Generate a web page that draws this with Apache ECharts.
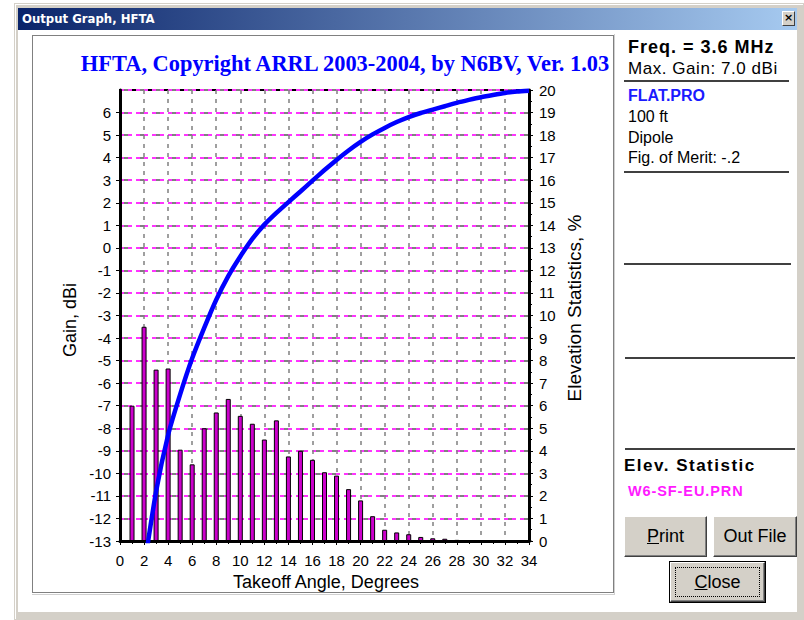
<!DOCTYPE html>
<html>
<head>
<meta charset="utf-8">
<script src="https://cdn.jsdelivr.net/npm/echarts@6/dist/echarts.min.js"></script>
<style>
  body{margin:0;width:804px;height:620px;position:relative;background:#fff;overflow:hidden;font-family:"Liberation Sans",Arial,sans-serif;}
  .abs{position:absolute;}
  .txt{position:absolute;white-space:nowrap;color:#000;}
  .hr{position:absolute;height:0;border-top:2px solid #404040;}
  .btn{position:absolute;background:#d4d0c8;border-style:solid;border-width:1px;border-color:#fff #404040 #404040 #fff;box-shadow:inset -1px -1px 0 #808080;box-sizing:border-box;font-size:18px;text-align:center;color:#000;}
</style>
</head>
<body>
<!-- window frame -->
<div class="abs" style="left:14px;top:3px;width:790px;height:617px;background:#d4d0c8;"></div>
<div class="abs" style="left:15px;top:4px;width:788px;height:615px;border-left:1px solid #fff;border-top:1px solid #fff;box-sizing:border-box;"></div>
<div class="abs" style="left:18px;top:30px;width:779px;height:582px;background:#fff;"></div>
<!-- title bar -->
<div class="abs" style="left:18px;top:8px;width:779px;height:22px;background:linear-gradient(to right,#0a246a,#a6caf0);"></div>
<div class="txt" style="left:22px;top:9px;font:bold 13px 'DejaVu Sans Condensed','DejaVu Sans',sans-serif;color:#fff;line-height:20px;">Output Graph, HFTA</div>
<div class="abs" style="left:782px;top:11px;width:13px;height:15px;background:#d4d0c8;border:1px solid;border-color:#fff #404040 #404040 #fff;box-sizing:border-box;font:bold 11px 'DejaVu Sans',sans-serif;text-align:center;line-height:12px;">×</div>
<!-- chart frame -->
<div class="abs" style="left:32px;top:35px;width:582px;height:558px;border:1px solid #808080;box-sizing:border-box;"></div>
<div class="abs" style="left:614px;top:34px;width:1px;height:560px;background:#d0d0d0;"></div>
<div class="abs" style="left:32px;top:594px;width:583px;height:1px;background:#d0d0d0;"></div>

<div id="chart" class="abs" style="left:0;top:0;width:804px;height:620px;"></div>

<!-- right panel -->
<div class="txt" style="left:628px;top:37px;font:bold 18px 'Liberation Sans',Arial,sans-serif;letter-spacing:1px;line-height:20px;">Freq. = 3.6 MHz</div>
<div class="txt" style="left:628px;top:59px;font:17px 'Liberation Sans',Arial,sans-serif;letter-spacing:0.55px;line-height:20px;">Max. Gain: 7.0 dBi</div>
<div class="hr" style="left:624px;top:80px;width:165px;"></div>
<div class="txt" style="left:628px;top:86px;font:bold 16px 'Liberation Sans',Arial,sans-serif;line-height:20px;color:#1a1aff;">FLAT.PRO</div>
<div class="txt" style="left:628px;top:107px;font:16px 'Liberation Sans',Arial,sans-serif;line-height:20px;">100 ft</div>
<div class="txt" style="left:628px;top:128px;font:16px 'Liberation Sans',Arial,sans-serif;line-height:20px;">Dipole</div>
<div class="txt" style="left:628px;top:148px;font:16px 'Liberation Sans',Arial,sans-serif;line-height:20px;">Fig. of Merit: -.2</div>
<div class="hr" style="left:624px;top:171px;width:165px;"></div>
<div class="hr" style="left:624px;top:263px;width:167px;"></div>
<div class="hr" style="left:625px;top:357px;width:170px;"></div>
<div class="hr" style="left:625px;top:448px;width:170px;"></div>
<div class="txt" style="left:624px;top:456px;font:bold 17px 'Liberation Sans',Arial,sans-serif;letter-spacing:1.5px;line-height:20px;">Elev. Statistic</div>
<div class="txt" style="left:628px;top:481px;font:bold 14.5px 'Liberation Sans',Arial,sans-serif;letter-spacing:0.9px;line-height:20px;color:#ff1aff;">W6-SF-EU.PRN</div>
<div class="btn" style="left:624px;top:516px;width:83px;height:41px;line-height:39px;"><u>P</u>rint</div>
<div class="btn" style="left:713px;top:516px;width:84px;height:41px;line-height:39px;">Out File</div>
<div class="abs" style="left:669px;top:561px;width:97px;height:42px;border:1px solid #000;box-sizing:border-box;"></div>
<div class="btn" style="left:670px;top:562px;width:95px;height:40px;line-height:38px;"><span style="position:absolute;left:4px;top:4px;right:4px;bottom:4px;border:1px dotted #000;"></span><u>C</u>lose</div>

<script>
// ---- data ----
var statAngles = [1,2,3,4,5,6,7,8,9,10,11,12,13,14,15,16,17,18,19,20,21,22,23,24,25,26,27,28,29,30,31,32,33,34];
var statValues = [6.0,9.5,7.6,7.65,4.05,3.4,5.0,5.7,6.3,5.55,5.2,4.5,5.35,3.75,4.0,3.6,3.05,2.9,2.3,1.8,1.1,0.5,0.38,0.3,0.18,0.12,0.1,0.05,0.04,0.03,0.03,0.02,0.02,0.02];
var gainAngles = [2,3,4,5,6,7,8,9,10,11,12,13,14,15,16,17,18,19,20,21,22,23,24,25,26,27,28,29,30,31,32,33,34];
var gainValues = [-14.2,-10.8,-8.3,-6.5,-4.9,-3.55,-2.3,-1.25,-0.38,0.4,1.03,1.55,2.03,2.5,2.98,3.45,3.9,4.32,4.7,5.03,5.32,5.58,5.8,5.98,6.13,6.28,6.43,6.56,6.68,6.78,6.87,6.93,6.97];
var titleText = 'HFTA, Copyright ARRL 2003-2004, by N6BV, Ver. 1.03';
var xName = 'Takeoff Angle, Degrees';
var yLeftName = 'Gain, dBi';
var yRightName = 'Elevation Statistics, %';

var chart = echarts.init(document.getElementById('chart'), null, {renderer:'svg'});
var lab = {color:'#000', fontFamily:'"Liberation Sans",Arial,sans-serif', fontSize:15};
chart.setOption({
  animation:false,
  backgroundColor:'transparent',
  grid:{left:120, right:275, top:90, bottom:79, show:true, borderColor:'#000', borderWidth:2, backgroundColor:'transparent'},
  xAxis:{type:'value', min:0, max:34, interval:2,
    axisLine:{show:true, onZero:false, lineStyle:{color:'#000', width:3}},
    axisTick:{show:true, length:4, lineStyle:{color:'#000', width:1}},
    minorTick:{show:true, splitNumber:2, length:3, lineStyle:{color:'#000'}},
    axisLabel:Object.assign({margin:12}, lab),
    splitLine:{show:true, lineStyle:{color:'#808080', type:[4,5], width:1.5}}
  },
  yAxis:[
    {type:'value', min:-13, max:7, interval:1, position:'left',
      axisLine:{show:true, onZero:false, lineStyle:{color:'#000', width:3}},
      axisTick:{show:true, length:4, lineStyle:{color:'#000'}},
      axisLabel:Object.assign({margin:9, showMaxLabel:false}, lab),
      splitLine:{show:true, lineStyle:{color:'#808080', type:[4,12], dashOffset:-4, width:2}}
    },
    {type:'value', min:0, max:20, interval:1, position:'right',
      axisLine:{show:true, onZero:false, lineStyle:{color:'#000', width:3}},
      axisTick:{show:true, length:4, lineStyle:{color:'#000'}},
      minorTick:{show:true, splitNumber:2, length:3, lineStyle:{color:'#000'}},
      axisLabel:Object.assign({margin:10}, lab),
      splitLine:{show:true, lineStyle:{color:'#ff33ff', type:[4,4], width:2}}
    }
  ],
  series:[
    {type:'bar', yAxisIndex:1, barWidth:5,
      data:statAngles.map(function(a,i){return [a, statValues[i]];}),
      itemStyle:{color:'#cc00cc', borderColor:'#000', borderWidth:1}},
    {type:'line', yAxisIndex:0, clip:true, showSymbol:false, smooth:0.2,
      data:gainAngles.map(function(a,i){return [a, gainValues[i]];}),
      lineStyle:{color:'#0000ff', width:4.5}, z:5}
  ],
  graphic:[
    {type:'text', x:345, y:63, style:{text:titleText, align:'center', verticalAlign:'middle', font:'bold 22.4px "Liberation Serif", serif', fill:'#0000ff'}},
    {type:'text', x:326, y:582, style:{text:xName, align:'center', verticalAlign:'middle', font:'18px "Liberation Sans", Arial, sans-serif', fill:'#000'}},
    {type:'text', x:70, y:320, rotation:Math.PI/2, style:{text:yLeftName, align:'center', verticalAlign:'middle', font:'18px "Liberation Sans", Arial, sans-serif', fill:'#000'}},
    {type:'text', x:574, y:308, rotation:Math.PI/2, style:{text:yRightName, align:'center', verticalAlign:'middle', font:'19px "Liberation Sans", Arial, sans-serif', fill:'#000'}}
  ]
});
</script>
</body>
</html>
